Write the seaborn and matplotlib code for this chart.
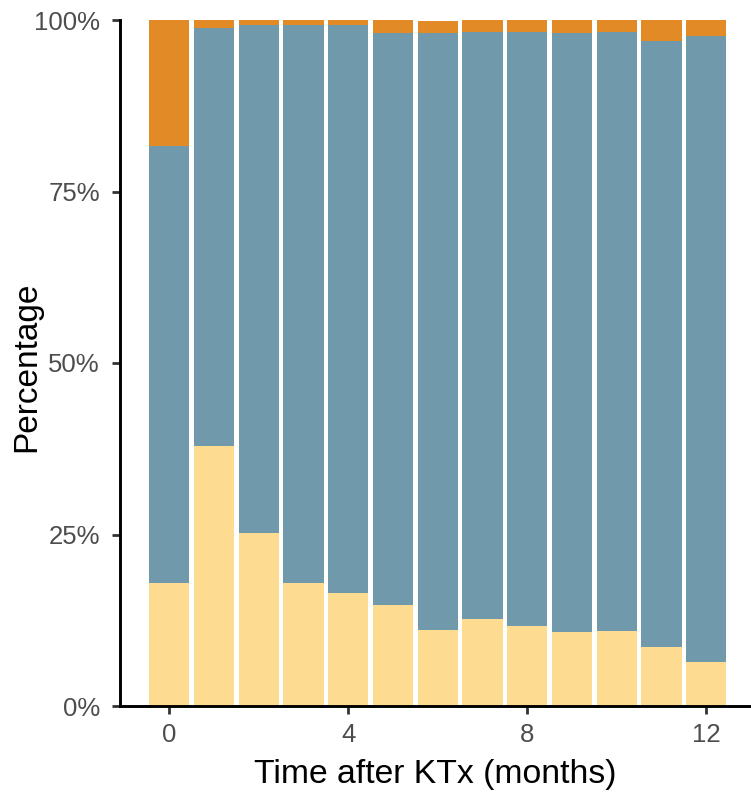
import matplotlib
matplotlib.use("Agg")
import matplotlib.pyplot as plt
from matplotlib.ticker import FuncFormatter
import numpy as np
import pandas as pd
import seaborn as sns

# Months after kidney transplantation
months = [0, 1, 2, 3, 4, 5, 6, 7, 8, 9, 10, 11, 12]
# Share of patients per category (%), bottom to top
low = [17.9, 37.9, 25.2, 17.9, 16.5, 14.7, 11.1, 12.7, 11.7, 10.8, 10.9, 8.6, 6.4]
mid = [63.7, 61.0, 74.0, 81.3, 82.7, 83.4, 87.0, 85.6, 86.6, 87.3, 87.4, 88.3, 91.3]
high = [18.4, 1.1, 0.8, 0.8, 0.8, 1.9, 1.7, 1.7, 1.7, 1.9, 1.7, 3.1, 2.3]

col_low = "#FDDB91"
col_mid = "#7099AC"
col_high = "#E28A26"

df = pd.DataFrame({"month": months, "low": low, "mid": mid, "high": high})
df["cum_low"] = df["low"] / 100
df["cum_mid"] = (df["low"] + df["mid"]) / 100
df["cum_high"] = (df["low"] + df["mid"] + df["high"]) / 100

sns.set_theme(style="ticks")
plt.rcParams["font.family"] = ["Liberation Sans", "DejaVu Sans"]

fig = plt.figure(figsize=(7.51, 7.95), dpi=100)
ax = fig.add_axes([120 / 751, 89 / 795, 631 / 751, 686 / 795])

# Stacked bars: draw cumulative totals from the top segment down
for col, color in [("cum_high", col_high), ("cum_mid", col_mid), ("cum_low", col_low)]:
    sns.barplot(data=df, x="month", y=col, native_scale=True, width=0.9,
                color=color, saturation=1, linewidth=0, ax=ax)

ax.set_xlim(-1.1, 13.0)
ax.set_ylim(0, 1)
ax.set_xticks([0, 4, 8, 12])
ax.set_yticks([0, 0.25, 0.5, 0.75, 1.0])
ax.yaxis.set_major_formatter(FuncFormatter(lambda v, p: f"{v * 100:.0f}%"))

for side in ["top", "right"]:
    ax.spines[side].set_visible(False)
for side in ["left", "bottom"]:
    ax.spines[side].set_linewidth(2.1)
    ax.spines[side].set_color("black")

ax.tick_params(axis="both", labelsize=18.5, labelcolor="#4D4D4D",
               color="#333333", length=6, width=2.0)
ax.tick_params(axis="x", pad=6.5)
ax.tick_params(axis="y", pad=8.4)

ax.set_xlabel("Time after KTx (months)", fontsize=24.3, color="black")
ax.set_ylabel("Percentage", fontsize=24, color="black")
ax.xaxis.set_label_coords(0.5, -0.0773)
ax.yaxis.set_label_coords(-0.1236, 0.494)

fig.savefig("out.png", dpi=100)
